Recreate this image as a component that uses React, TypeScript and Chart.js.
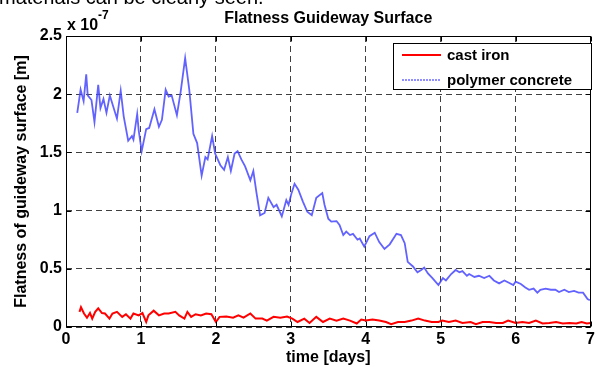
import React, { useEffect, useRef } from "react";
import { Chart, registerables } from "chart.js";

Chart.register(...registerables);

// time [days] and flatness values (x 1e-7 m)
const polymerDays = [0.15,0.195,0.235,0.27,0.29,0.34,0.38,0.43,0.46,0.50,0.54,0.585,0.68,0.73,0.77,0.83,0.88,0.90,0.95,0.97,1.01,1.07,1.11,1.18,1.24,1.28,1.33,1.37,1.41,1.48,1.53,1.59,1.645,1.70,1.75,1.81,1.86,1.89,1.95,1.99,2.06,2.11,2.16,2.20,2.25,2.29,2.34,2.39,2.46,2.50,2.54,2.59,2.65,2.70,2.77,2.81,2.88,2.94,2.97,3.01,3.05,3.10,3.16,3.22,3.28,3.34,3.42,3.45,3.50,3.54,3.61,3.65,3.70,3.74,3.79,3.83,3.89,3.92,3.98,4.05,4.12,4.18,4.25,4.32,4.41,4.47,4.52,4.56,4.63,4.69,4.74,4.78,4.83,4.89,4.97,5.03,5.07,5.14,5.20,5.25,5.29,5.35,5.38,5.45,5.51,5.58,5.65,5.71,5.78,5.85,5.91,5.97,6.00,6.07,6.13,6.18,6.24,6.29,6.33,6.40,6.47,6.53,6.58,6.65,6.71,6.78,6.84,6.90,6.96,6.99];
const polymerValues = [1.84,2.04,1.94,2.17,1.99,1.95,1.76,2.08,1.88,1.96,1.84,1.99,1.79,2.03,1.81,1.60,1.64,1.61,1.83,1.69,1.51,1.70,1.71,1.87,1.72,1.78,2.04,1.98,1.99,1.82,2.02,2.31,2.04,1.66,1.58,1.30,1.46,1.44,1.64,1.49,1.39,1.35,1.46,1.34,1.49,1.51,1.44,1.38,1.26,1.34,1.16,0.96,0.98,1.11,1.03,1.05,0.95,1.09,1.05,1.15,1.23,1.18,1.08,0.99,0.96,1.11,1.15,1.05,0.93,0.905,0.91,0.876,0.79,0.82,0.79,0.80,0.75,0.76,0.69,0.78,0.81,0.73,0.67,0.71,0.80,0.79,0.72,0.56,0.52,0.47,0.49,0.51,0.46,0.42,0.36,0.42,0.40,0.455,0.49,0.47,0.48,0.44,0.455,0.43,0.44,0.42,0.44,0.40,0.375,0.40,0.38,0.36,0.39,0.37,0.34,0.32,0.33,0.295,0.32,0.33,0.32,0.32,0.30,0.32,0.30,0.31,0.295,0.295,0.24,0.23];

const castIronDays = [0.18,0.2,0.24,0.28,0.32,0.35,0.39,0.43,0.48,0.52,0.58,0.62,0.68,0.75,0.8,0.86,0.9,0.97,1.02,1.07,1.1,1.17,1.24,1.31,1.37,1.46,1.51,1.58,1.62,1.67,1.73,1.8,1.87,1.94,2.0,2.05,2.14,2.23,2.3,2.37,2.46,2.53,2.62,2.68,2.77,2.86,2.95,3.02,3.09,3.18,3.25,3.34,3.43,3.52,3.61,3.7,3.79,3.88,3.94,4.0,4.09,4.18,4.27,4.34,4.43,4.52,4.61,4.7,4.79,4.88,4.97,5.02,5.11,5.2,5.29,5.4,5.47,5.56,5.65,5.74,5.83,5.9,6.0,6.09,6.18,6.27,6.36,6.45,6.54,6.63,6.72,6.81,6.88,6.95,7.0];
const castIronValues = [0.13,0.17,0.116,0.08,0.12,0.072,0.13,0.16,0.12,0.116,0.072,0.116,0.13,0.087,0.11,0.072,0.116,0.10,0.12,0.043,0.10,0.14,0.10,0.116,0.116,0.13,0.10,0.072,0.13,0.087,0.11,0.10,0.116,0.11,0.043,0.087,0.09,0.08,0.10,0.08,0.116,0.072,0.072,0.055,0.087,0.08,0.09,0.072,0.043,0.072,0.035,0.087,0.043,0.072,0.055,0.072,0.055,0.03,0.064,0.055,0.064,0.055,0.043,0.025,0.043,0.043,0.055,0.072,0.055,0.043,0.043,0.055,0.043,0.055,0.035,0.043,0.025,0.043,0.043,0.035,0.035,0.055,0.035,0.043,0.035,0.055,0.03,0.035,0.043,0.03,0.035,0.03,0.043,0.03,0.035];

const xTicks = [0, 1, 2, 3, 4, 5, 6, 7];
const yTicks = [0, 0.5, 1, 1.5, 2, 2.5];

const titleText = "Flatness Guideway Surface";
const xTitle = "time [days]";
const yTitle = "Flatness of guideway surface [m]";
const seriesNames = ["cast iron", "polymer concrete"];
const docText = "materials can be clearly seen.";

const FONT = '"Liberation Sans", Arial, sans-serif';

const decor = {
  id: "decor",
  afterDraw(chart: any) {
    const { ctx, chartArea: a, scales } = chart;
    const xs = scales.x;
    const ys = scales.y;
    ctx.save();
    // frame
    ctx.strokeStyle = "#000";
    ctx.lineWidth = 1;
    ctx.setLineDash([]);
    const L = Math.round(a.left) + 0.5;
    const R = Math.round(a.right) - 0.5;
    const T = Math.round(a.top) + 0.5;
    const B = Math.round(a.bottom) - 0.5;
    ctx.strokeRect(L, T, R - L, B - T);
    // inward ticks
    ctx.beginPath();
    xTicks.forEach((v) => {
      const px = Math.round(xs.getPixelForValue(v)) + 0.5;
      ctx.moveTo(px, B); ctx.lineTo(px, B - 5);
      ctx.moveTo(px, T); ctx.lineTo(px, T + 5);
    });
    yTicks.forEach((v) => {
      const py = Math.round(ys.getPixelForValue(v)) + 0.5;
      ctx.moveTo(L, py); ctx.lineTo(L + 5, py);
      ctx.moveTo(R, py); ctx.lineTo(R - 5, py);
    });
    ctx.stroke();

    ctx.fillStyle = "#000";
    // title
    ctx.font = `bold 16px ${FONT}`;
    ctx.textAlign = "center";
    ctx.textBaseline = "middle";
    ctx.fillText(titleText, (a.left + a.right) / 2, 19);
    // exponent
    ctx.textAlign = "left";
    ctx.fillText("x 10", a.left + 1, 26);
    ctx.font = `bold 12px ${FONT}`;
    ctx.fillText("-7", a.left + 32, 16);
    // axis titles
    ctx.font = `bold 16px ${FONT}`;
    ctx.textAlign = "center";
    ctx.fillText(xTitle, (a.left + a.right) / 2, 358);
    ctx.save();
    ctx.translate(22, (a.top + a.bottom) / 2);
    ctx.rotate(-Math.PI / 2);
    ctx.fillText(yTitle, 0, 0);
    ctx.restore();

    // legend
    const lx = 393.5, ly = 43.5, lw = 198, lh = 46;
    ctx.fillStyle = "#fff";
    ctx.fillRect(lx, ly, lw, lh);
    ctx.strokeStyle = "#000";
    ctx.lineWidth = 1;
    ctx.strokeRect(lx, ly, lw, lh);
    ctx.lineWidth = 2;
    ctx.strokeStyle = "#ff0000";
    ctx.beginPath(); ctx.moveTo(402, 55); ctx.lineTo(441, 55); ctx.stroke();
    ctx.strokeStyle = "rgba(90,90,255,0.9)";
    ctx.lineWidth = 1.5;
    ctx.setLineDash([2, 1]);
    ctx.beginPath(); ctx.moveTo(402, 80); ctx.lineTo(441, 80); ctx.stroke();
    ctx.setLineDash([]);
    ctx.fillStyle = "#000";
    ctx.font = `bold 15px ${FONT}`;
    ctx.textAlign = "left";
    ctx.fillText(seriesNames[0], 447, 56);
    ctx.fillText(seriesNames[1], 447, 81);

    // cut-off document text at very top
    ctx.font = `20px ${FONT}`;
    ctx.textBaseline = "alphabetic";
    ctx.fillText(docText, -1, 4);
    ctx.restore();
  },
};

const fmtTick = (v: any) => String(Number(v));

export default function App() {
  const ref = useRef<HTMLCanvasElement | null>(null);
  useEffect(() => {
    if (!ref.current) return;
    const chart = new Chart(ref.current, {
      type: "line",
      data: {
        datasets: [
          {
            label: seriesNames[0],
            data: castIronDays.map((d, i) => ({ x: d, y: castIronValues[i] })),
            borderColor: "#ff0000",
            borderWidth: 2,
            pointRadius: 0,
            tension: 0,
          },
          {
            label: seriesNames[1],
            data: polymerDays.map((d, i) => ({ x: d, y: polymerValues[i] })),
            borderColor: "rgba(70,70,255,0.85)",
            borderWidth: 1.8,
            pointRadius: 0,
            tension: 0,
          },
        ],
      },
      options: {
        responsive: false,
        animation: false,
        devicePixelRatio: 1,
        layout: { padding: { top: 36, right: 6, left: 0, bottom: 0 } },
        plugins: { legend: { display: false }, title: { display: false }, tooltip: { enabled: false } },
        scales: {
          x: {
            type: "linear",
            min: 0,
            max: 7,
            afterFit: (s: any) => { s.height = 40; },
            afterBuildTicks: (s: any) => { s.ticks = xTicks.map((v) => ({ value: v })); },
            ticks: { color: "#000", font: { family: FONT, size: 16, weight: "bold" }, padding: 3, maxRotation: 0, autoSkip: false, callback: fmtTick },
            grid: { color: "rgba(0,0,0,0.75)", lineWidth: 1, drawTicks: false },
            border: { display: false, dash: [6, 4] },
          },
          y: {
            type: "linear",
            min: 0,
            max: 2.5,
            afterFit: (s: any) => { s.width = 66; },
            afterBuildTicks: (s: any) => { s.ticks = yTicks.map((v) => ({ value: v })); },
            ticks: { color: "#000", font: { family: FONT, size: 16, weight: "bold" }, padding: 4, autoSkip: false, callback: fmtTick },
            grid: { color: "rgba(0,0,0,0.75)", lineWidth: 1, drawTicks: false },
            border: { display: false, dash: [6, 4] },
          },
        },
      },
      plugins: [decor],
    });
    return () => chart.destroy();
  }, []);
  return (
    <div style={{ position: "absolute", left: 0, top: 0, width: 598, height: 367, background: "#fff" }}>
      <canvas ref={ref} width={598} height={367} style={{ display: "block" }} />
    </div>
  );
}
